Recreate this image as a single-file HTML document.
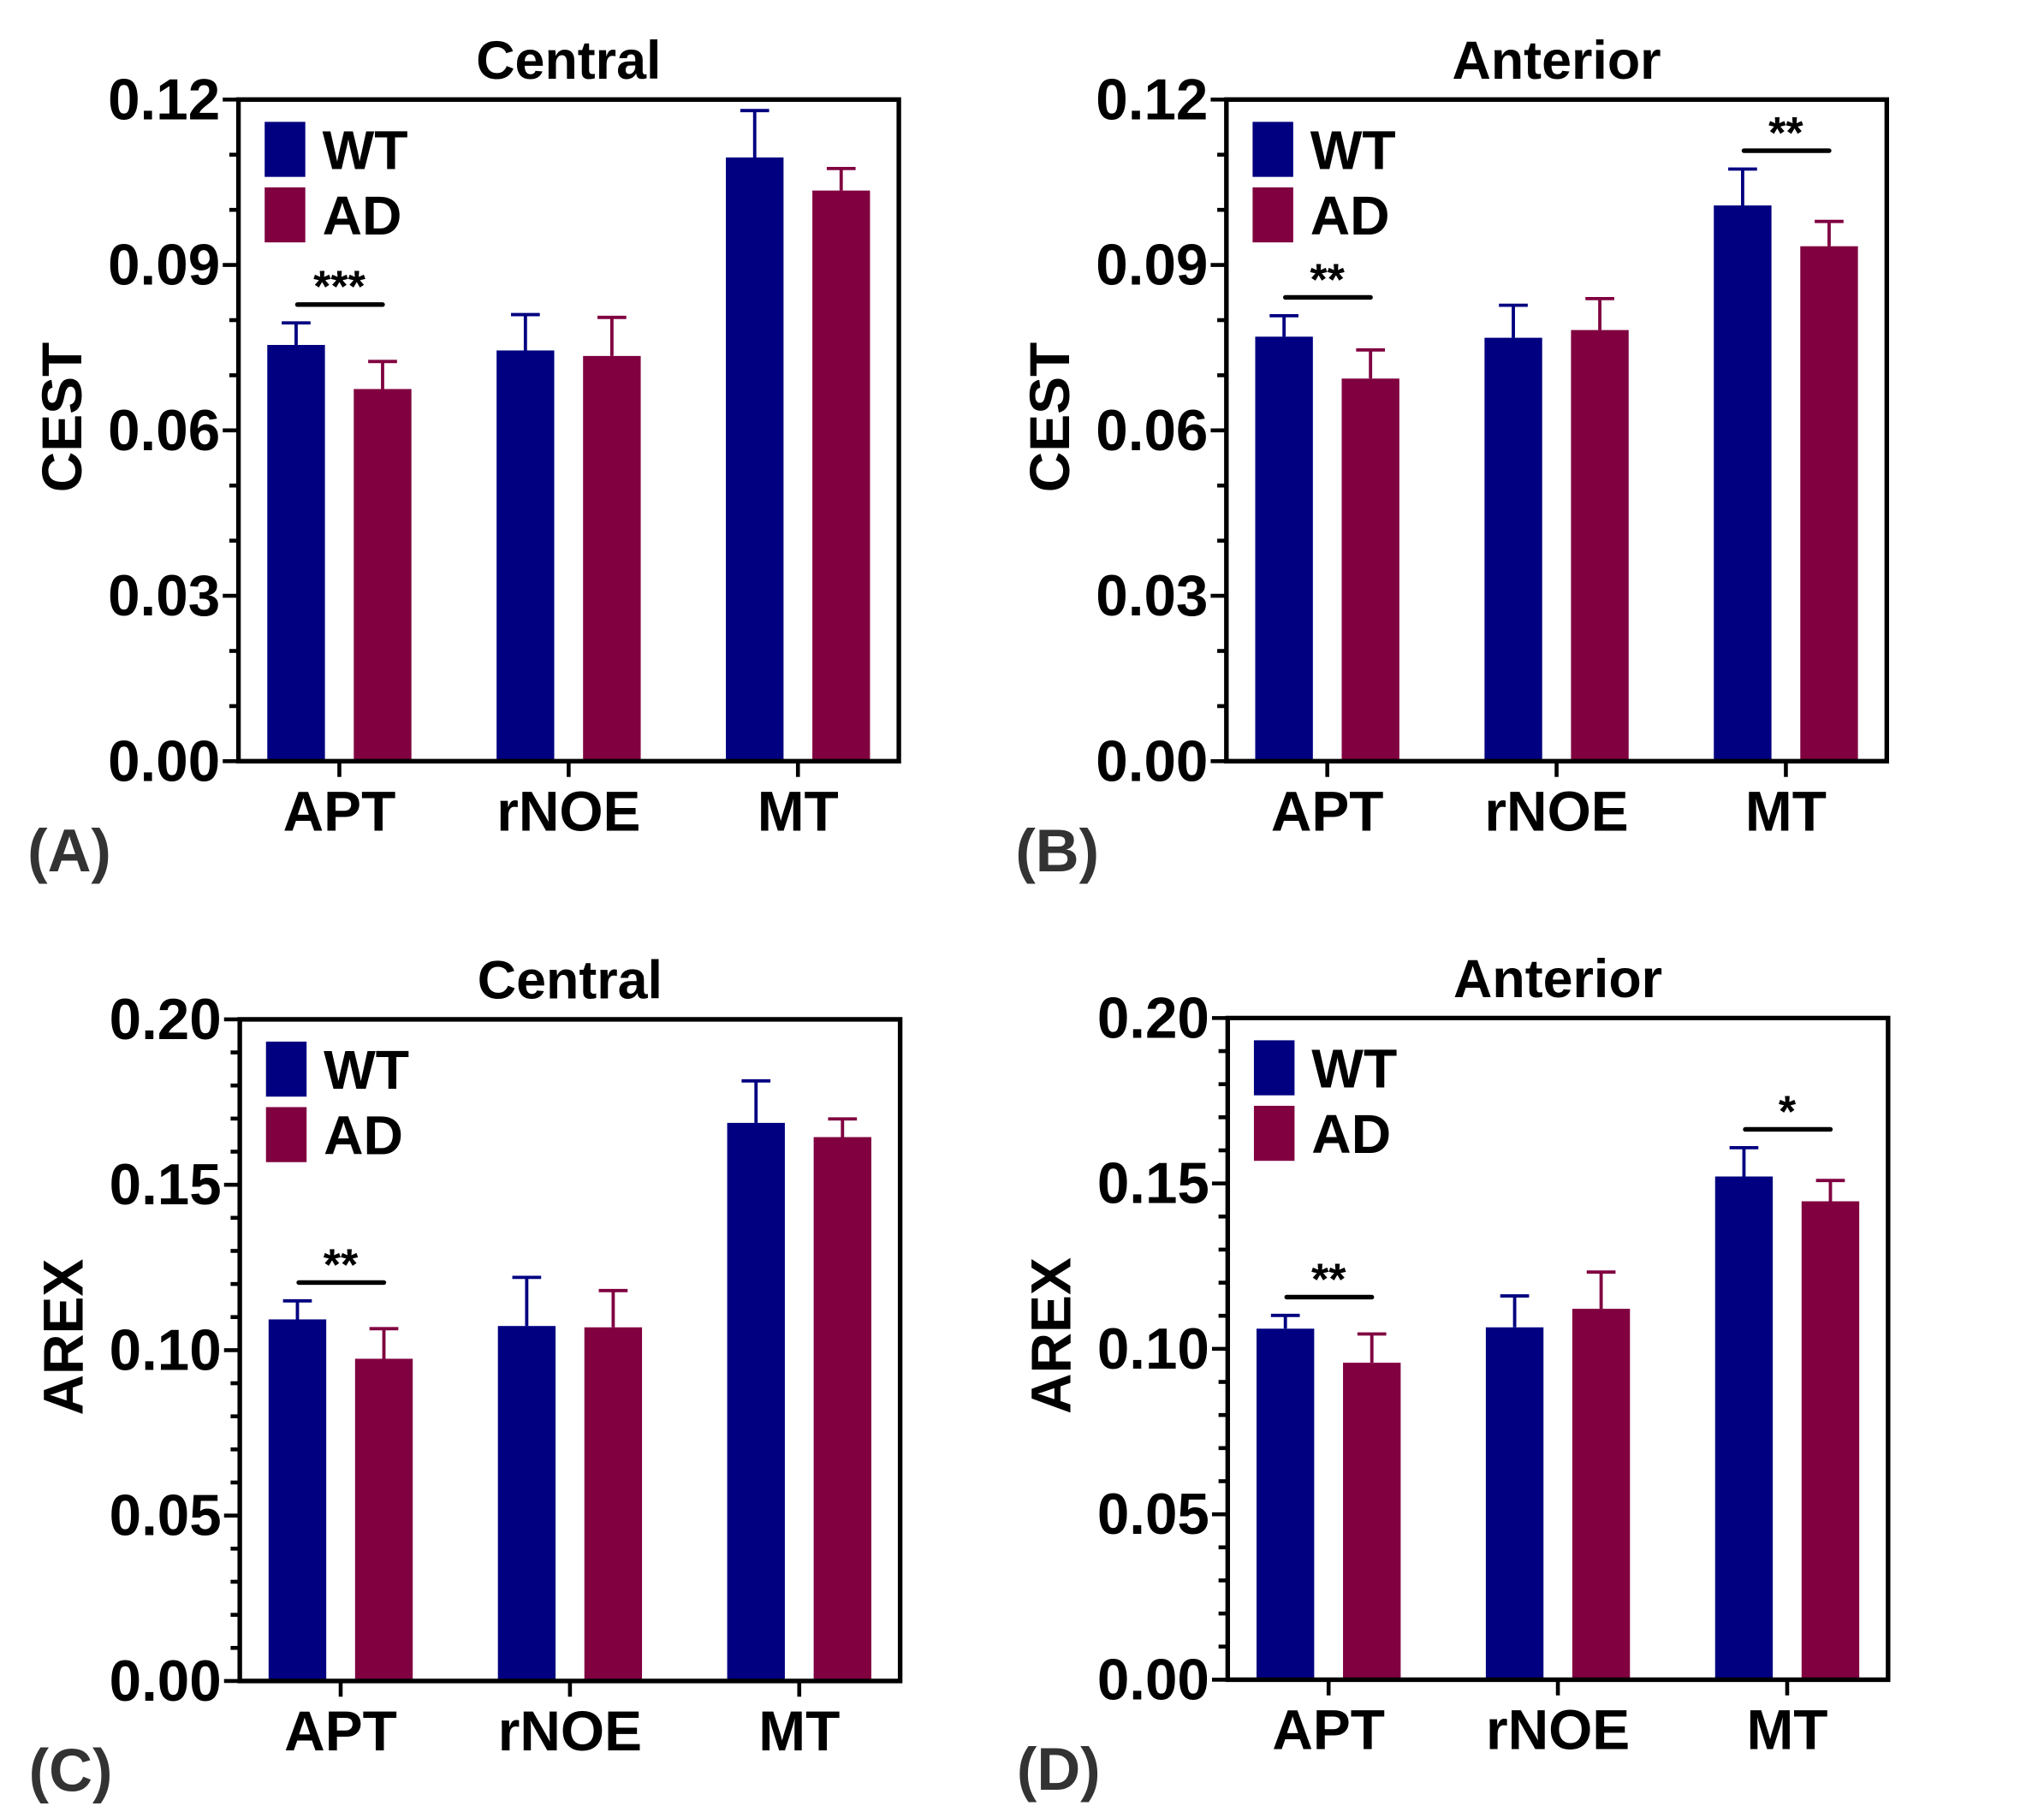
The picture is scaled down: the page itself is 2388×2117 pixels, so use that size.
<!DOCTYPE html>
<html><head><meta charset="utf-8"><style>
html,body{margin:0;padding:0;background:#fff;}
svg{display:block;font-family:"Liberation Sans",Arial,sans-serif;font-weight:bold;}
</style></head><body>
<svg id="fig" width="2388" height="2117" viewBox="0 0 1560 1383" preserveAspectRatio="none" xmlns="http://www.w3.org/2000/svg"></svg>
<script>
const categories = ["APT", "rNOE", "MT"];
const wtA = [0.0755, 0.0745, 0.1095];
const wtAErr = [0.0795, 0.081, 0.118];
const adA = [0.0675, 0.0735, 0.1035];
const adAErr = [0.0725, 0.0805, 0.1075];
const wtB = [0.077, 0.0768, 0.1008];
const wtBErr = [0.0808, 0.0827, 0.1074];
const adB = [0.0694, 0.0782, 0.0934];
const adBErr = [0.0746, 0.0839, 0.0979];
const wtC = [0.1093, 0.1073, 0.1687];
const wtCErr = [0.1149, 0.122, 0.1814];
const adC = [0.0974, 0.1069, 0.1644];
const adCErr = [0.1065, 0.118, 0.1699];
const wtD = [0.1061, 0.1065, 0.1521];
const wtDErr = [0.1101, 0.116, 0.1608];
const adD = [0.0958, 0.1121, 0.1446];
const adDErr = [0.1045, 0.1232, 0.1509];
const ticksCEST = ["0.00", "0.03", "0.06", "0.09", "0.12"];
const ticksAREX = ["0.00", "0.05", "0.10", "0.15", "0.20"];
const sigA = [{cat:0, text:"***"}];
const sigB = [{cat:0, text:"**"}, {cat:2, text:"**"}];
const sigC = [{cat:0, text:"**"}];
const sigD = [{cat:0, text:"**"}, {cat:2, text:"*"}];

const NS = "http://www.w3.org/2000/svg";
const svg = document.getElementById("fig");
function mk(tag, attrs, parent, txt){
  const e = document.createElementNS(NS, tag);
  for (const k in attrs) e.setAttribute(k, attrs[k]);
  if (txt !== undefined) e.textContent = txt;
  (parent || svg).appendChild(e);
  return e;
}
const WT = "#000080", AD = "#800040";

function panel(cfg){
  const g = mk("g", {});
  
  
  const L = cfg.left, R = L + 504, T = cfg.top, B = T + 505;
  const ymax = parseFloat(cfg.ticks[cfg.ticks.length - 1]);
  const y = v => B - v / ymax * (B - T);
  const xc = i => L + 77 + i * 175;
  const t = mk("text", {x: L + 252, y: T - 16, "text-anchor": "middle", "font-size": 41}, g, cfg.title);
  
  
  for (let i = 0; i < categories.length; i++) {
    const series = [[cfg.wt, cfg.wtErr, WT, -1], [cfg.ad, cfg.adErr, AD, 1]];
    for (const [vals, errs, col, side] of series) {
      const cx = xc(i) + side * 33;
      const b = mk("rect", {x: cx - 22, y: y(vals[i]), width: 44, height: B - y(vals[i]), fill: col}, g);
      
      
      const e = mk("path", {d: `M${cx} ${y(vals[i])}V${y(errs[i])}M${cx - 11} ${y(errs[i])}H${cx + 11}`, stroke: col, "stroke-width": 2.5, fill: "none"}, g);
      
      
    }
  }
  for (const s of cfg.sig) {
    const top = Math.max(cfg.wtErr[s.cat], cfg.adErr[s.cat]);
    const lineY = Math.min(y(top) - 7, y(cfg.wtErr[s.cat]) - 14);
    const ln = mk("line", {x1: xc(s.cat) - 32, x2: xc(s.cat) + 33, y1: lineY, y2: lineY, stroke: "#000", "stroke-width": 3.5, "stroke-linecap": "round"}, g);
    
    
    const st = mk("text", {x: xc(s.cat), y: lineY - 2, "text-anchor": "middle", "font-size": 34}, g, s.text);
    
    
  }
  const fr = mk("path", {d: `M${L} ${T}H${R}V${B}H${L}Z`, stroke: "#000", "stroke-width": 3.5, fill: "none"}, g);
  
  
  const nMaj = cfg.ticks.length - 1;
  const nSub = cfg.sub;
  for (let k = 0; k <= nMaj * nSub; k++) {
    const v = k / (nMaj * nSub) * ymax;
    const major = k % nSub === 0;
    mk("line", {x1: L - (major ? 12 : 7), x2: L, y1: y(v), y2: y(v), stroke: "#000", "stroke-width": 3}, g);
  }
  cfg.ticks.forEach((lab) => {
    const tl = mk("text", {x: L - 14, y: y(parseFloat(lab)) + 15, "text-anchor": "end", "font-size": 44}, g, lab);
    
    
  });
  categories.forEach((c, i) => {
    mk("line", {x1: xc(i), x2: xc(i), y1: B, y2: B + 12, stroke: "#000", "stroke-width": 3}, g);
    const xl = mk("text", {x: xc(i), y: B + 53, "text-anchor": "middle", "font-size": 43}, g, c);
    
    
  });
  const yt = mk("text", {x: 0, y: 0, "text-anchor": "middle", "font-size": 43, transform: `translate(${L - 120},${(T + B) / 2 - 10}) rotate(-90)`}, g, cfg.ylabel);
  
  
  const lg = mk("g", {}, g);
  
  
  mk("rect", {x: L + 20, y: T + 17, width: 31, height: 42, fill: WT}, lg);
  mk("text", {x: L + 64, y: T + 53, "font-size": 42}, lg, "WT");
  mk("rect", {x: L + 20, y: T + 67, width: 31, height: 42, fill: AD}, lg);
  mk("text", {x: L + 64, y: T + 103, "font-size": 42}, lg, "AD");
  const pl = mk("text", {x: L - 161, y: B + 84, "font-size": 46, fill: "#333"}, g, cfg.letter);
  
  
}

panel({name: "panel-a", left: 182, top: 76, title: "Central", ylabel: "CEST", ticks: ticksCEST, sub: 3, wt: wtA, wtErr: wtAErr, ad: adA, adErr: adAErr, sig: sigA, letter: "(A)"});
panel({name: "panel-b", left: 936, top: 76, title: "Anterior", ylabel: "CEST", ticks: ticksCEST, sub: 3, wt: wtB, wtErr: wtBErr, ad: adB, adErr: adBErr, sig: sigB, letter: "(B)"});
panel({name: "panel-c", left: 183, top: 778, title: "Central", ylabel: "AREX", ticks: ticksAREX, sub: 5, wt: wtC, wtErr: wtCErr, ad: adC, adErr: adCErr, sig: sigC, letter: "(C)"});
panel({name: "panel-d", left: 937, top: 777, title: "Anterior", ylabel: "AREX", ticks: ticksAREX, sub: 5, wt: wtD, wtErr: wtDErr, ad: adD, adErr: adDErr, sig: sigD, letter: "(D)"});
</script>
</body></html>
